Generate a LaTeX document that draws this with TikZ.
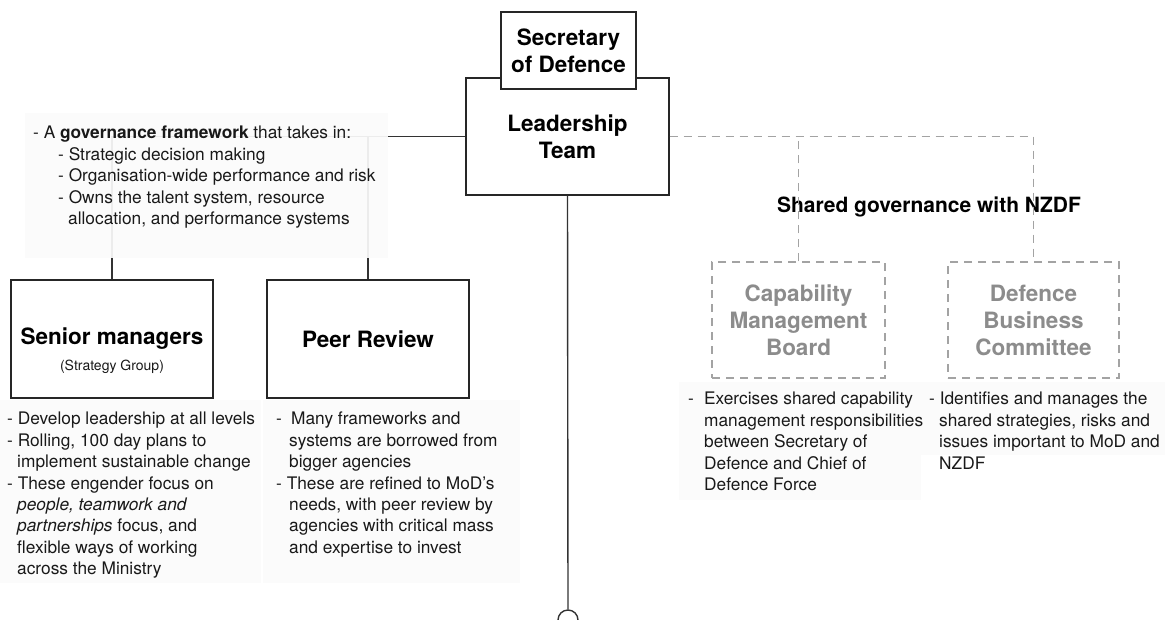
\documentclass[tikz,border=0pt]{standalone}
\usepackage{fontspec}
\setmainfont{TeX Gyre Heros}
\usetikzlibrary{positioning}
\definecolor{dashgray}{HTML}{A3A3A3}
\definecolor{sharedtext}{HTML}{8C8C8C}
\definecolor{panelgray}{HTML}{FBFBFB}
\tikzset{inner sep=0pt,
  box/.style={draw=black!85, line width=1.4pt, fill=white, align=center, font=\fontsize{22.5}{27}\selectfont\bfseries},
  sharedbox/.style={box, draw=dashgray, dash pattern=on 8pt off 6pt, text=sharedtext},
  notes/.style={anchor=north west, align=left, text=black!90, font=\fontsize{17.3}{21.4}\selectfont},
  subtitle/.style={text=black!90, font=\fontsize{14}{17}\selectfont},
  heading/.style={font=\fontsize{21}{25}\selectfont\bfseries},
  link/.style={line width=1.4pt, draw=black!80},
  sharedlink/.style={line width=1.4pt, draw=dashgray, dash pattern=on 8pt off 6pt},
  panel/.style={fill=panelgray, draw=none}}

\begin{document}
\begin{tikzpicture}[x=1pt, y=-1pt]
\useasboundingbox (0,0) rectangle (1165,619);

\path[panel] (0,400) rectangle (261,583);
\path[panel] (263,400) rectangle (520,583);
\path[panel] (679,382) rectangle (921,500);
\path[panel] (921,382) rectangle (1165,455);

\node[box, minimum width=203pt, minimum height=117pt] (leadership) at (567.5,136.5) {Leadership\\Team};
\node[box, minimum width=135pt, minimum height=77pt] (secretary) at (568.5,50.5) {Secretary\\of Defence};

\node[box, minimum width=202pt, minimum height=118pt] (senior) at (112,339) {Senior managers};
\node[subtitle, below=21pt of senior.center] (strategy) {(Strategy Group)};
\node[box, minimum width=202pt, minimum height=118pt] (peer) at (368,339) {Peer Review};

\node[heading] (shared) at (929,207) {Shared governance with NZDF};
\node[sharedbox, minimum width=173pt, minimum height=116pt] (cmb) at (798.5,320) {Capability\\Management\\Board};
\node[sharedbox, minimum width=171pt, minimum height=116pt] (dbc) at (1033.5,320) {Defence\\Business\\Committee};

\node[circle, draw=black!80, line width=1.4pt, fill=white, minimum size=20pt] (hub) at (568,620) {};

\draw[link] (senior.north) |- (leadership.west);
\draw[link] (peer.north) -- (peer.north |- leadership.west);
\draw[link] (leadership.south) -- (hub.north);
\draw[sharedlink] (leadership.east) -| (dbc.north);
\draw[sharedlink] (cmb.north) -- (cmb.north |- leadership.east);

\path[fill=panelgray, fill opacity=0.93] (25,113) rectangle (388,258);
\node[notes] (govnotes) at (33,126) {- A \textbf{governance framework} that takes in:\\
  \hspace*{25pt}- Strategic decision making\\
  \hspace*{25pt}- Organisation-wide performance and risk\\
  \hspace*{25pt}- Owns the talent system, resource\\
  \hspace*{35pt}allocation, and performance systems};

\node[notes] (seniornotes) at (7,412) {- Develop leadership at all levels\\
  - Rolling, 100 day plans to\\
  \hspace*{10pt}implement sustainable change\\
  - These engender focus on\\
  \hspace*{10pt}\textit{people, teamwork and}\\
  \hspace*{10pt}\textit{partnerships} focus, and\\
  \hspace*{10pt}flexible ways of working\\
  \hspace*{10pt}across the Ministry};

\node[notes] (peernotes) at (276,412) {\makebox[15pt][l]{-}Many frameworks and\\
  \hspace*{13pt}systems are borrowed from\\
  \hspace*{13pt}bigger agencies\\
  - These are refined to MoD’s\\
  \hspace*{13pt}needs, with peer review by\\
  \hspace*{13pt}agencies with critical mass\\
  \hspace*{13pt}and expertise to invest};

\node[notes] (cmbnotes) at (688,392) {\makebox[16pt][l]{-}Exercises shared capability\\
  \hspace*{16pt}management responsibilities\\
  \hspace*{16pt}between Secretary of\\
  \hspace*{16pt}Defence and Chief of\\
  \hspace*{16pt}Defence Force};

\node[notes] (dbcnotes) at (929,392) {- Identifies and manages the\\
  \hspace*{10pt}shared strategies, risks and\\
  \hspace*{10pt}issues important to MoD and\\
  \hspace*{10pt}NZDF};
\end{tikzpicture}
\end{document}
